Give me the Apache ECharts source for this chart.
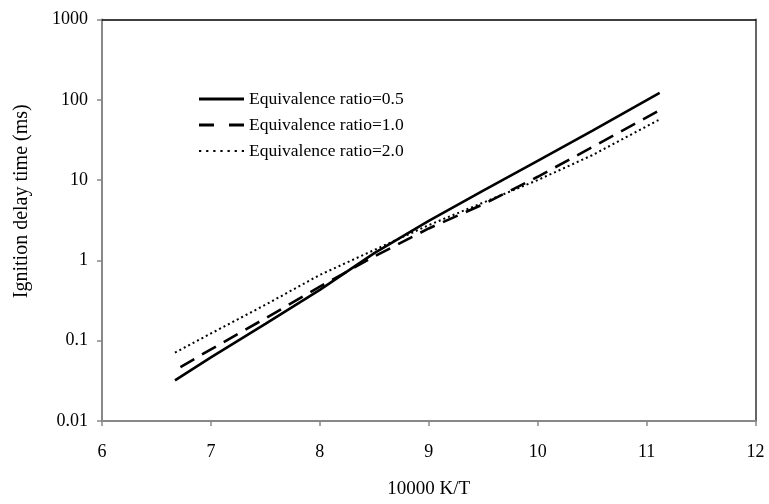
<!DOCTYPE html>
<html>
<head>
<meta charset="utf-8">
<script src="https://cdn.jsdelivr.net/npm/echarts@6/dist/echarts.min.js"></script>
<style>html,body{margin:0;padding:0;background:#fff}#c{width:769px;height:504px}</style>
</head>
<body>
<div id="c"></div>
<script>
const seriesNames = ['Equivalence ratio=0.5', 'Equivalence ratio=1.0', 'Equivalence ratio=2.0'];
const xPhi05 = [6.67, 7.0, 7.5, 8.0, 8.5, 9.0, 9.5, 10.0, 10.5, 11.12];
const yPhi05 = [0.032, 0.062, 0.162, 0.43, 1.23, 3.1, 7.4, 17.4, 41, 122];
const xPhi10 = [6.72, 7.0, 7.5, 8.0, 8.5, 9.0, 9.5, 10.0, 10.5, 11.12];
const yPhi10 = [0.047, 0.078, 0.19, 0.47, 1.12, 2.5, 5.0, 11, 25.7, 74];
const xPhi20 = [6.67, 7.0, 7.5, 8.0, 8.5, 9.0, 9.5, 10.0, 10.5, 11.12];
const yPhi20 = [0.071, 0.123, 0.28, 0.66, 1.35, 2.75, 5.25, 10, 20.4, 57];
const xTickLabels = ['6', '7', '8', '9', '10', '11', '12'];
const yTickLabels = ['0.01', '0.1', '1', '10', '100', '1000'];
const xTitle = '10000 K/T';
const yTitle = 'Ignition delay time (ms)';

const pairs = (xs, ys) => xs.map((x, i) => [x, ys[i]]);
const font = '"Liberation Serif", "Times New Roman", serif';

// legend glyphs (line samples)
const iconSolid = 'path://M0,0 H45 V3 H0 Z';
const iconDashed = 'path://M0,0 H15 V3 H0 Z M30,0 H45 V3 H30 Z';
let dots = '';
for (let k = 0; k < 7; k++) { const x0 = k * 7; dots += 'M' + x0 + ',0 H' + (x0 + 2.2) + ' V2.2 H' + x0 + ' Z '; }
const iconDotted = 'path://' + dots.trim();

const chart = echarts.init(document.getElementById('c'));
chart.setOption({
  animation: false,
  backgroundColor: '#fff',
  grid: { left: 102, right: 13.5, top: 19.5, bottom: 78.5, containLabel: false },
  legend: {
    orient: 'vertical', left: 199, top: 90, padding: 0,
    itemWidth: 45, itemHeight: 18, itemGap: 8,
    itemStyle: { color: '#000', borderWidth: 0 },
    textStyle: { fontFamily: font, fontSize: 17.5, color: '#000' },
    data: [
      { name: seriesNames[0], icon: iconSolid },
      { name: seriesNames[1], icon: iconDashed },
      { name: seriesNames[2], icon: iconDotted }
    ]
  },
  xAxis: [{
    type: 'value', min: 6, max: 12, interval: 1,
    name: xTitle, nameLocation: 'middle', nameGap: 59,
    nameTextStyle: { fontFamily: font, fontSize: 19, color: '#000' },
    axisLine: { onZero: false, lineStyle: { color: '#888', width: 2 } },
    axisTick: { show: true, length: 5, lineStyle: { color: '#888', width: 1.5 } },
    axisLabel: { margin: 22, fontFamily: font, fontSize: 18, color: '#000',
      formatter: (v) => { const i = Math.round(v - 6); return xTickLabels[i] !== undefined ? xTickLabels[i] : ''; } },
    splitLine: { show: false }
  }, {
    type: 'value', min: 6, max: 12, interval: 1, position: 'top',
    axisLine: { onZero: false, lineStyle: { color: '#000', width: 1.5 } },
    axisTick: { show: false }, axisLabel: { show: false }, splitLine: { show: false }
  }],
  yAxis: [{
    type: 'log', logBase: 10, min: 0.01, max: 1000,
    name: yTitle, nameLocation: 'middle', nameGap: 70,
    nameTextStyle: { fontFamily: font, fontSize: 20, color: '#000', padding: [0, 0, 0, 38] },
    axisLine: { show: true, lineStyle: { color: '#888', width: 2 } },
    axisTick: { show: true, length: 5, lineStyle: { color: '#888', width: 1.5 } },
    axisLabel: { margin: 14, fontFamily: font, fontSize: 18, color: '#000',
      formatter: (v) => { const i = Math.round(Math.log10(v) + 2); return yTickLabels[i] !== undefined ? yTickLabels[i] : ''; } },
    splitLine: { show: false }, minorTick: { show: false }
  }, {
    type: 'log', logBase: 10, min: 0.01, max: 1000, position: 'right',
    axisLine: { show: true, lineStyle: { color: '#666', width: 2 } },
    axisTick: { show: false }, axisLabel: { show: false }, splitLine: { show: false }
  }],
  series: [
    { name: seriesNames[0], type: 'line', data: pairs(xPhi05, yPhi05), showSymbol: false, symbol: 'none',
      lineStyle: { color: '#000', width: 2.6, type: 'solid' }, itemStyle: { color: '#000' } },
    { name: seriesNames[1], type: 'line', data: pairs(xPhi10, yPhi10), showSymbol: false, symbol: 'none',
      lineStyle: { color: '#000', width: 2.6, type: [16, 9] }, itemStyle: { color: '#000' } },
    { name: seriesNames[2], type: 'line', data: pairs(xPhi20, yPhi20), showSymbol: false, symbol: 'none',
      lineStyle: { color: '#000', width: 2, type: [2, 3] }, itemStyle: { color: '#000' } }
  ]
});
</script>
</body>
</html>
